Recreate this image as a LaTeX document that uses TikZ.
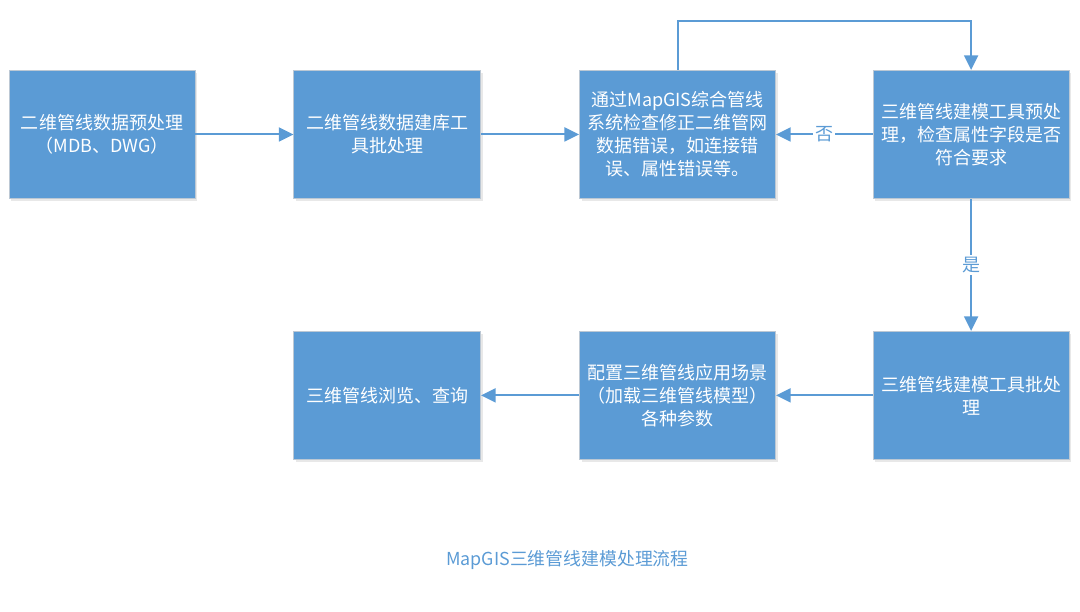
\documentclass[tikz,border=0pt]{standalone}
\usepackage{fontspec}
\newfontfamily\cjk{Noto Sans CJK SC}
\usepackage{tikz}
\usetikzlibrary{positioning}
\usetikzlibrary{arrows.meta}
\usetikzlibrary{shadows}
\definecolor{boxblue}{HTML}{5B9BD5}
\definecolor{boxedge}{HTML}{BCC8D4}

\begin{document}
\begin{tikzpicture}[
    font=\cjk\fontsize{13.5pt}{17.25pt}\selectfont,
    stepbox/.style={rectangle, fill=boxblue, draw=boxedge, line width=0.7pt, minimum width=140pt, minimum height=96pt, inner sep=0pt, text=white, align=center, drop shadow={opacity=0.18, shadow xshift=1.5pt, shadow yshift=-2pt}},
    flow/.style={draw=boxblue, line width=1.5pt, -{Triangle[length=11pt, width=10.5pt]}},
    tag/.style={fill=white, text=boxblue, inner sep=1.5pt}
]
    \useasboundingbox (0,0) rectangle (810pt,458.25pt);

    \node [stepbox, minimum width=139.5pt] (prep) at (76.5pt,357.4pt) {二维管线数据预处理\\（MDB、DWG）};
    \node [stepbox, right=73.5pt of prep] (batch) {二维管线数据建库工\\具批处理};
    \node [stepbox, minimum width=147pt, right=73.5pt of batch] (check) {通过MapGIS综合管线\\系统检查修正二维管网\\数据错误，如连接错\\误、属性错误等。};
    \node [stepbox, minimum width=147pt, right=72.5pt of check] (model) {三维管线建模工具预处\\理，检查属性字段是否\\符合要求};
    \node [stepbox, minimum width=147pt, below=99pt of model] (build) {三维管线建模工具批处\\理};
    \node [stepbox, minimum width=147pt, left=72.5pt of build] (scene) {配置三维管线应用场景\\（加载三维管线模型）\\各种参数};
    \node [stepbox, left=73.5pt of scene] (browse) {三维管线浏览、查询};

    \node [text=boxblue, font=\cjk\fontsize{13.4pt}{16pt}\selectfont] (caption) at (425.6pt,38.25pt) {MapGIS三维管线建模处理流程};

    \draw [flow] (prep) -- (batch);
    \draw [flow] (batch) -- (check);
    \draw [flow] (check.north) -- ++(0,36.75pt) -| (model.north);
    \draw [flow] (model) -- node [tag] {否} (check);
    \draw [flow] (model) -- node [tag] {是} (build);
    \draw [flow] (build) -- (scene);
    \draw [flow] (scene) -- (browse);
\end{tikzpicture}
\end{document}
